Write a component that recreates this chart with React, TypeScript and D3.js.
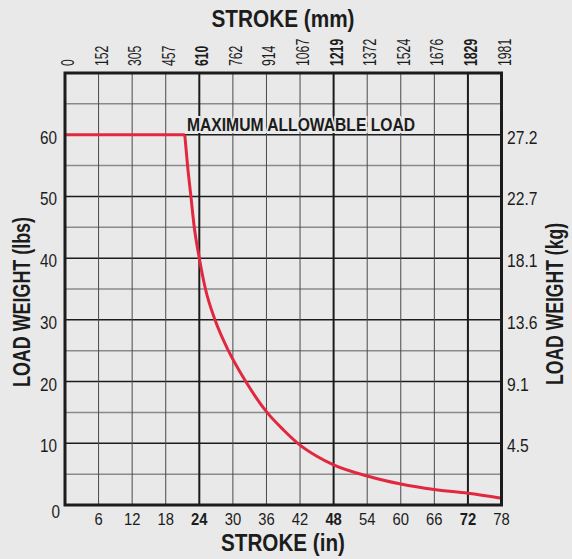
import * as d3 from 'd3';
import * as React from 'react';

// stroke (in) vs. allowable load (lbs)
const strokeIn = [0, 21.4, 21.9, 22.5, 23.1, 24.0, 25.1, 26.8, 29.2, 32.3, 36.1, 39.0, 42.0, 45.0, 48.0, 54.0, 60.0, 66.0, 72.0, 78];
const loadLbs = [60, 60, 55, 50, 45, 40, 35, 30, 25, 20, 15, 12.2, 9.7, 7.9, 6.5, 4.7, 3.4, 2.5, 1.9, 1.1];

const inchTicks = [6, 12, 18, 24, 30, 36, 42, 48, 54, 60, 66, 72, 78];
const boldInches = [24, 48, 72];
const mmLabels = ['0', '152', '305', '457', '610', '762', '914', '1067', '1219', '1372', '1524', '1676', '1829', '1981'];
const lbsTicks = [0, 10, 20, 30, 40, 50, 60];
const kgLabels = ['4.5', '9.1', '13.6', '18.1', '22.7', '27.2'];

const W = 572;
const H = 559;
const BG = '#e8e9e8';
const INK = '#1c1c1c';
const RED = '#e2283f';
const FONT = "'Liberation Sans', Arial, sans-serif";

const x = d3.scaleLinear().domain([0, 78]).range([65, 501.5]);
const y = d3.scaleLinear().domain([0, 70]).range([505, 73]);

// condensed text: Liberation Sans squeezed horizontally
function T(props: {
  x: number;
  y: number;
  rot?: number;
  sx?: number;
  size: number;
  bold?: boolean;
  anchor?: string;
  children: React.ReactNode;
}) {
  const { rot = 0, sx = 0.85, anchor = 'start' } = props;
  return (
    <text
      transform={`translate(${props.x},${props.y}) rotate(${rot}) scale(${sx},1)`}
      fontSize={props.size}
      fontWeight={props.bold ? 'bold' : 'normal'}
      textAnchor={anchor}
      fill={INK}
    >
      {props.children}
    </text>
  );
}

export default function App() {
  const pts: [number, number][] = strokeIn.map((s, i) => [s, loadLbs[i]]);
  const flat = pts.filter((p) => p[0] <= 21.4);
  const drop = pts.filter((p) => p[0] >= 21.4);

  const line = d3.line<[number, number]>().x((d) => x(d[0])).y((d) => y(d[1]));
  const curve = d3
    .line<[number, number]>()
    .x((d) => x(d[0]))
    .y((d) => y(d[1]))
    .curve(d3.curveMonotoneX);

  const vGrid = d3.range(6, 78, 6);
  const hGrid = d3.range(5, 70, 5);

  return (
    <svg width={W} height={H} style={{ position: 'absolute', left: 0, top: 0 }} fontFamily={FONT}>
      <rect width={W} height={H} fill={BG} />

      {/* grid */}
      {hGrid.map((v) => (
        <line
          key={'h' + v}
          x1={x(0)}
          x2={x(78)}
          y1={y(v)}
          y2={y(v)}
          stroke={v % 10 === 0 ? INK : '#8a8a8a'}
          strokeWidth={1.5}
        />
      ))}
      {vGrid.map((v) => (
        <line
          key={'v' + v}
          x1={x(v)}
          x2={x(v)}
          y1={y(70)}
          y2={y(0)}
          stroke={boldInches.includes(v) ? INK : '#4a4a4a'}
          strokeWidth={boldInches.includes(v) ? 2 : 1}
        />
      ))}

      <text
        x={187}
        y={131}
        textLength={228}
        lengthAdjust="spacingAndGlyphs"
        fontSize={18}
        fontWeight="bold"
        fill={INK}
        stroke={BG}
        strokeWidth={4}
        paintOrder="stroke"
      >
        MAXIMUM ALLOWABLE LOAD
      </text>

      <path d={line(flat) || ''} fill="none" stroke={RED} strokeWidth={3} />
      <path d={curve(drop) || ''} fill="none" stroke={RED} strokeWidth={3} />

      {/* frame */}
      <rect x={x(0)} y={y(70)} width={x(78) - x(0)} height={y(0) - y(70)} fill="none" stroke={INK} strokeWidth={3} />

      {/* top mm labels */}
      {mmLabels.map((m, i) => (
        <T key={'mm' + m} x={x(i * 6) + 9} y={66} rot={-90} sx={0.68} size={18} bold={boldInches.includes(i * 6)}>
          {m}
        </T>
      ))}

      {/* bottom in labels */}
      {inchTicks.map((v) => (
        <T key={'in' + v} x={x(v)} y={525} sx={0.87} size={17} anchor="middle" bold={boldInches.includes(v)}>
          {v}
        </T>
      ))}

      {/* left lbs labels */}
      {lbsTicks.map((v) => (
        <T key={'lb' + v} x={v === 0 ? 60 : 57} y={y(v) + (v === 0 ? 13 : 9)} sx={0.85} size={18} anchor="end">
          {v}
        </T>
      ))}

      {/* right kg labels */}
      {kgLabels.map((k, i) => (
        <T key={'kg' + k} x={507} y={y(lbsTicks[i + 1]) + 9} sx={0.87} size={18}>
          {k}
        </T>
      ))}

      {/* titles */}
      <text x={283} y={27} textAnchor="middle" fontSize={23} fontWeight="bold" fill={INK} textLength={143} lengthAdjust="spacingAndGlyphs">
        STROKE (mm)
      </text>
      <text x={283} y={551} textAnchor="middle" fontSize={23} fontWeight="bold" fill={INK} textLength={124} lengthAdjust="spacingAndGlyphs">
        STROKE (in)
      </text>
      <text
        transform="translate(30,302) rotate(-90)"
        textAnchor="middle"
        fontSize={23}
        fontWeight="bold"
        fill={INK}
        textLength={170}
        lengthAdjust="spacingAndGlyphs"
      >
        LOAD WEIGHT (lbs)
      </text>
      <text
        transform="translate(563,304) rotate(-90)"
        textAnchor="middle"
        fontSize={23}
        fontWeight="bold"
        fill={INK}
        textLength={162}
        lengthAdjust="spacingAndGlyphs"
      >
        LOAD WEIGHT (kg)
      </text>
    </svg>
  );
}
